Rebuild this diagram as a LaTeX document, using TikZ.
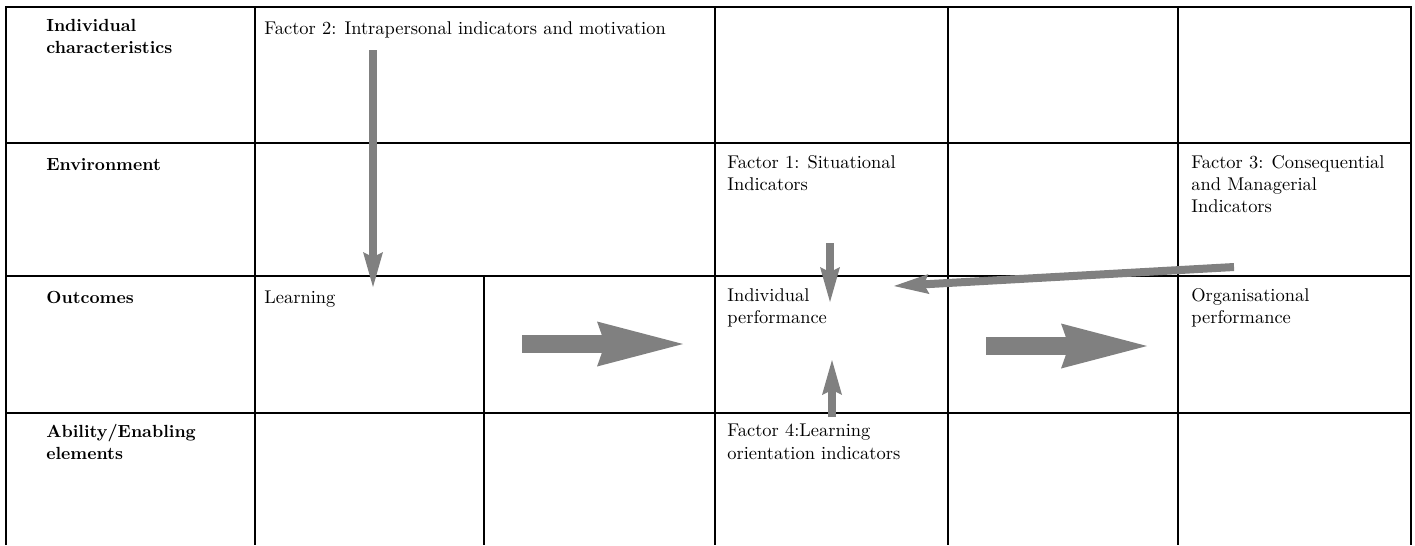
\documentclass[tikz,border=0pt]{standalone}
\usetikzlibrary{arrows.meta}
\begin{document}
\begin{tikzpicture}[x=0.02cm,y=-0.02cm,
    tabline/.style={line width=0.85pt},
    rowhead/.style={anchor=north west,inner sep=0pt,align=left,font=\fontsize{10pt}{12.7pt}\selectfont\bfseries,execute at begin node=\strut},
    celltext/.style={anchor=north west,inner sep=0pt,align=left,font=\fontsize{10.5pt}{12.7pt}\selectfont,execute at begin node=\strut},
    thinarrow/.style={draw=gray,line width=0.16cm,-{Stealth[length=0.7cm,width=0.4cm,inset=0.1cm,line width=0pt]}},
    bigarrow/.style={draw=gray,line width=0.36cm,-{Stealth[length=1.72cm,width=0.9cm,inset=0.16cm,line width=0pt]}}]
    \useasboundingbox (0,0) rectangle (1415,545);
    \draw [tabline] (6,545)--(6,7)--(1411,7)--(1411,545);
    \draw [tabline] (6,143)--(1411,143);
    \draw [tabline] (6,276)--(1411,276);
    \draw [tabline] (6,413)--(1411,413);
    \draw [tabline] (255,7)--(255,545);
    \draw [tabline] (484,276)--(484,545);
    \draw [tabline] (715,7)--(715,545);
    \draw [tabline] (948,7)--(948,545);
    \draw [tabline] (1178,7)--(1178,545);
    \node [rowhead] (indiv) at (46,19) {Individual\\characteristics};
    \node [rowhead] (env) at (46,155) {Environment};
    \node [rowhead] (outc) at (46,288) {Outcomes};
    \node [rowhead] (abil) at (46,424) {Ability/Enabling\\elements};
    \node [celltext] (factor2) at (264,19) {Factor 2: Intrapersonal indicators and motivation};
    \node [celltext] (factor1) at (727,155) {Factor 1: Situational\\Indicators};
    \node [celltext] (factor3) at (1191,155) {Factor 3: Consequential\\and Managerial\\Indicators};
    \node [celltext] (learn) at (264,288) {Learning};
    \node [celltext] (indperf) at (727,288) {Individual\\performance};
    \node [celltext] (orgperf) at (1191,288) {Organisational\\performance};
    \node [celltext] (factor4) at (727,424) {Factor 4:Learning\\orientation indicators};
    \coordinate (f2out) at (373,50);
    \coordinate (learnin) at (373,287);
    \coordinate (f1out) at (830,243);
    \coordinate (perftop) at (830,302);
    \coordinate (f4out) at (832,417);
    \coordinate (perfbot) at (832,360);
    \coordinate (f3out) at (1234,267);
    \coordinate (perfright) at (894,286);
    \coordinate (learnout) at (522,344);
    \coordinate (indin) at (683,344);
    \coordinate (indout) at (986,346);
    \coordinate (orgin) at (1147,346);
    \draw [thinarrow] (f2out)--(learnin);
    \draw [thinarrow] (f1out)--(perftop);
    \draw [thinarrow] (f4out)--(perfbot);
    \draw [thinarrow] (f3out)--(perfright);
    \draw [bigarrow] (learnout)--(indin);
    \draw [bigarrow] (indout)--(orgin);
\end{tikzpicture}
\end{document}
